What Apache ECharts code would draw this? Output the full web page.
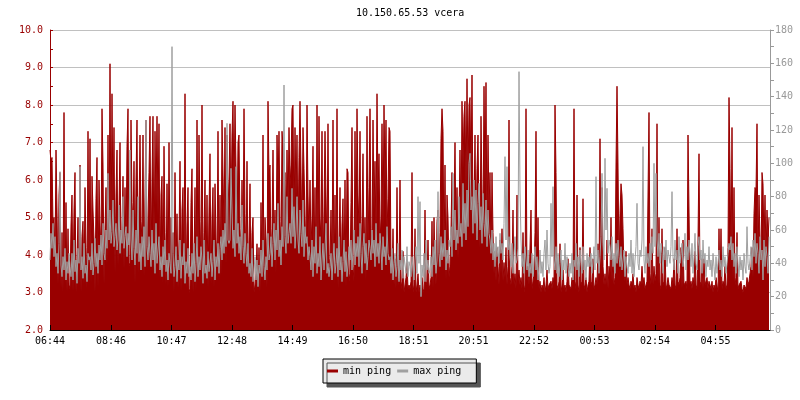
<!DOCTYPE html>
<html>
<head>
<meta charset="utf-8">
<script src="https://cdn.jsdelivr.net/npm/echarts@6/dist/echarts.min.js"></script>
<style>html,body{margin:0;padding:0;background:#fff}#c{width:800px;height:400px}</style>
</head>
<body>
<div id="c"></div>
<script>
const titleText = '10.150.65.53 vcera';
const seriesNames = ['min ping', 'max ping'];
const stepMinutes = 2;
const tickMinutes = [0, 122, 243, 364, 485, 606, 727, 847, 968, 1089, 1210, 1331];
const tickLabels = ['06:44', '08:46', '10:47', '12:48', '14:49', '16:50', '18:51', '20:51', '22:52', '00:53', '02:54', '04:55'];

const minPing = [
6.8,6.5,6.6,4.8,5.0,3.9,6.8,5.2,3.2,5.6,6.2,3.1,4.6,3.0,7.8,3.2,5.4,3.0,4.7,3.2,
3.1,4.8,5.6,3.0,5.2,6.2,3.0,3.9,5.0,3.2,6.4,3.0,4.5,4.9,3.2,5.8,4.2,3.1,7.3,3.3,
7.1,3.2,6.1,5.2,4.4,3.0,5.5,6.6,3.1,6.0,4.8,4.1,7.9,6.4,3.2,4.7,5.8,3.7,7.2,3.9,
9.1,4.2,8.3,5.0,7.4,3.5,5.6,6.8,3.7,5.2,7.0,3.9,4.7,6.1,3.6,5.8,4.2,6.9,7.9,3.8,
3.7,7.6,5.4,4.7,6.5,3.2,6.0,7.6,3.5,5.1,7.2,4.9,4.4,7.2,3.4,5.6,7.6,3.6,5.0,6.2,
7.7,3.7,6.0,7.7,3.4,7.3,5.3,7.7,5.0,7.5,3.3,5.6,6.1,3.2,6.9,4.6,3.2,5.9,3.1,7.0,
3.7,5.0,3.4,4.6,3.0,6.2,3.7,5.1,3.1,4.4,6.5,3.0,5.2,5.8,3.2,8.3,3.1,4.8,5.8,3.0,
3.1,5.4,6.3,3.0,3.9,5.8,3.0,7.6,3.4,7.2,4.9,3.7,8.0,3.2,4.6,6.0,3.3,5.6,3.1,5.2,
6.7,3.2,5.0,5.8,3.1,5.9,4.4,3.8,7.3,3.3,5.6,3.4,7.6,7.6,4.7,7.4,3.7,7.2,5.2,6.0,
7.5,5.0,7.2,8.1,5.6,8.0,6.3,4.4,7.0,7.2,4.7,3.9,6.0,4.2,7.9,5.1,3.7,6.5,3.4,4.4,
5.9,3.1,4.6,5.0,3.0,3.2,3.5,4.3,3.1,4.2,3.0,5.4,3.7,7.2,3.2,5.0,4.4,3.1,8.1,6.1,
6.4,3.7,4.7,6.8,4.2,5.2,3.5,7.2,5.8,7.3,4.9,4.1,7.3,6.9,5.6,6.2,4.4,6.8,5.1,7.4,
5.8,6.4,7.9,8.0,4.6,7.4,5.5,7.2,4.2,6.6,8.1,8.1,4.4,7.4,6.3,5.0,4.0,8.0,5.6,4.4,
6.0,4.2,5.0,6.9,3.7,5.8,3.4,8.0,3.9,7.7,5.0,4.4,7.3,3.5,5.2,7.3,5.6,4.1,7.5,3.7,
3.9,5.2,3.5,7.6,3.2,5.6,3.3,7.9,3.1,4.2,5.8,3.2,4.8,5.5,3.2,6.0,3.1,6.3,6.2,3.3,
3.5,5.4,7.4,3.7,3.3,7.3,4.1,7.9,5.6,4.7,7.3,3.6,4.9,6.7,3.9,5.0,3.3,7.7,4.2,5.8,
7.9,4.7,4.2,7.6,5.2,6.5,4.4,8.3,5.6,6.7,4.3,5.0,7.5,4.7,8.0,5.8,7.6,4.6,5.5,7.4,
7.3,3.7,3.3,4.7,3.2,3.9,3.1,5.8,3.2,3.4,6.0,3.1,3.3,4.1,3.0,3.2,3.4,3.8,3.1,3.2,
3.1,3.3,6.2,3.0,3.2,4.7,3.0,3.2,3.5,3.0,3.2,3.0,3.4,3.1,3.0,5.2,3.2,3.3,4.4,3.1,
3.2,3.4,4.9,3.1,5.0,3.7,3.2,4.9,5.2,3.5,4.6,7.1,7.9,7.3,3.9,6.4,3.3,5.6,5.0,3.4,
3.7,4.7,6.2,4.2,5.2,7.0,4.4,5.8,3.9,5.0,6.8,4.7,8.1,6.3,7.7,8.1,5.6,8.7,6.0,8.0,
8.2,6.0,8.8,4.8,5.2,7.2,4.4,6.3,7.2,5.0,4.2,7.7,5.6,4.6,8.5,5.8,8.6,4.4,7.2,5.2,
6.2,3.9,6.2,4.6,3.5,4.1,3.3,4.2,3.7,3.2,4.4,3.5,4.7,3.3,3.8,3.4,4.2,3.2,3.7,7.6,
3.4,3.2,3.7,5.2,3.2,3.5,3.1,5.6,3.3,3.6,3.2,3.4,3.1,4.6,3.2,3.0,7.9,3.3,3.7,3.2,
3.2,5.2,3.1,3.3,3.5,4.6,7.3,3.2,5.0,3.1,3.3,3.0,3.2,3.1,3.4,3.0,3.2,3.6,3.1,3.2,
3.2,3.3,3.1,3.4,3.2,8.0,6.2,3.2,3.1,3.3,4.3,3.0,3.2,3.6,3.1,3.2,3.0,3.3,3.9,3.2,
3.2,3.1,3.4,3.2,7.9,3.3,3.1,5.6,3.2,3.0,4.2,3.2,3.3,5.5,3.1,3.2,3.4,3.0,3.2,3.3,
4.2,3.2,3.3,3.9,3.1,3.2,3.4,3.2,4.3,3.3,7.1,3.4,5.8,3.7,3.2,3.5,3.2,4.4,3.1,3.7,
3.5,5.0,3.3,3.9,3.2,3.4,6.4,8.5,6.4,3.7,5.1,5.9,5.6,4.7,3.6,3.3,4.1,3.2,3.4,3.2,
3.1,3.3,3.2,3.5,3.1,3.2,3.0,3.4,3.2,3.1,3.3,3.2,3.7,3.2,3.4,3.1,3.2,3.3,5.6,7.8,
3.5,3.2,4.7,3.2,3.7,3.3,3.5,7.5,3.2,5.0,3.2,3.1,4.7,3.2,3.3,4.2,3.1,3.2,3.4,3.2,
3.2,3.1,3.4,3.2,3.9,3.2,3.1,4.7,3.3,3.2,3.4,4.2,3.1,4.4,3.2,3.2,3.3,3.1,7.2,5.2,
3.2,3.3,3.1,3.4,3.2,4.1,3.2,3.1,4.4,6.7,3.3,3.2,3.9,3.1,3.9,3.2,3.2,3.4,3.1,3.3,
3.2,3.1,3.3,3.0,3.2,3.1,3.4,3.2,3.0,4.7,3.2,4.7,3.1,3.3,3.2,3.7,3.1,3.2,4.2,8.2,
6.3,3.7,7.4,3.3,5.8,3.2,3.4,4.6,3.1,3.2,3.2,3.3,3.1,3.0,3.2,3.2,3.1,3.4,3.2,3.3,
3.3,3.7,4.2,3.4,5.1,5.8,5.7,7.5,3.9,5.6,4.4,3.7,6.2,5.9,4.2,5.6,3.9,5.2,4.4,5.0
];

const maxPing = [
42,58,49,64,44,56,38,46,34,52,95,39,32,44,36,49,30,41,34,46,
38,32,46,30,54,35,42,28,49,40,98,36,44,31,52,34,39,29,46,42,
44,36,52,33,40,55,38,46,34,51,42,57,39,64,46,42,60,49,94,54,
72,52,59,78,50,56,64,48,54,75,46,60,52,80,49,56,62,44,58,51,
108,54,42,72,49,39,60,46,80,41,52,36,56,44,62,38,126,50,42,56,
46,38,60,42,52,34,64,40,48,56,36,44,32,50,39,54,35,42,30,46,
40,34,170,46,32,38,50,29,42,36,54,31,44,39,52,28,41,34,49,32,
38,30,46,34,52,29,40,56,32,44,36,50,42,28,54,34,39,31,47,35,
36,46,32,41,54,30,44,38,52,34,49,56,42,60,46,64,50,124,54,52,
54,97,72,49,60,44,98,52,64,46,56,42,75,50,40,58,46,38,52,34,
40,32,49,29,36,44,30,42,26,39,34,48,32,54,38,30,44,36,58,42,
46,56,38,52,64,42,60,48,76,44,54,39,62,50,147,56,46,80,52,58,
64,52,85,56,74,49,60,80,54,46,72,58,50,78,44,62,52,56,42,50,
44,36,54,32,50,40,62,34,46,38,56,30,42,52,36,48,64,34,40,32,
38,46,30,42,52,34,40,49,32,56,36,44,29,41,54,35,47,32,39,50,
42,54,36,48,60,39,52,44,56,38,64,46,34,50,58,40,52,36,44,54,
49,42,60,46,54,38,64,44,52,40,58,48,36,56,44,50,39,62,46,42,
44,34,49,30,40,46,32,38,52,29,42,36,48,31,44,39,34,50,32,41,
38,32,44,36,30,42,50,34,80,40,77,20,39,32,46,29,54,36,42,34,
36,44,32,50,39,54,34,42,83,46,38,56,42,52,44,60,36,48,40,54,
50,62,44,94,54,72,48,60,52,80,56,64,50,88,58,76,54,84,62,100,
106,72,80,58,90,64,84,54,76,88,60,74,52,82,64,56,78,50,72,58,
54,46,60,42,52,38,56,44,50,40,58,46,52,42,64,104,54,98,48,56,
44,38,52,34,46,56,40,42,49,155,84,54,38,46,34,50,42,36,48,32,
40,34,46,32,42,50,36,44,30,38,48,34,41,32,46,54,36,60,40,34,
38,76,44,86,42,36,50,34,46,32,40,48,30,42,36,52,34,44,38,32,
40,34,46,30,42,38,52,36,44,32,48,40,34,50,36,42,30,46,38,44,
38,46,34,42,50,36,92,40,48,34,44,56,94,52,42,103,60,85,46,54,
50,42,56,38,46,34,52,40,54,44,38,50,36,42,48,32,44,38,34,46,
38,54,34,46,32,42,50,76,40,36,48,44,54,110,42,34,50,40,46,38,
52,42,56,46,100,50,94,54,44,58,40,52,46,34,50,42,54,38,48,44,
40,50,83,44,36,54,42,48,34,56,40,46,52,38,44,58,36,50,42,54,
46,38,52,34,44,58,40,36,50,56,42,48,34,54,40,46,32,42,38,50,
36,42,32,46,38,30,44,34,40,48,36,42,32,50,38,44,34,40,46,52,
48,56,42,52,38,46,34,50,40,32,44,36,42,30,46,38,34,62,40,36,
42,50,36,54,44,58,40,52,46,34,56,42,48,30,54,38,50,44,34,56
];

const RED = '#990000';
const GREY = '#a0a0a0';
const FONT = 'DejaVu Sans Mono';

const chart = echarts.init(document.getElementById('c'), null, {renderer: 'canvas'});
const minData = minPing.map((v, i) => [i * stepMinutes, v]);
const maxData = maxPing.map((v, i) => [i * stepMinutes, v]);

chart.setOption({
  animation: false,
  backgroundColor: '#ffffff',
  title: {
    text: titleText,
    left: 356,
    top: 8,
    padding: 0,
    textStyle: {fontFamily: FONT, fontSize: 10, fontWeight: 'normal', color: '#000'}
  },
  legend: {
    left: 323,
    top: 359,
    padding: [7, 15, 7, 4],
    itemGap: 6,
    itemWidth: 11,
    itemHeight: 3,
    icon: 'rect',
    backgroundColor: '#ebebeb',
    borderColor: '#000',
    borderWidth: 1,
    borderRadius: 0,
    shadowColor: '#555555',
    shadowBlur: 0,
    shadowOffsetX: 4,
    shadowOffsetY: 4,
    textStyle: {fontFamily: FONT, fontSize: 10, color: '#000'},
    data: seriesNames
  },
  grid: {left: 50, right: 30, top: 30, bottom: 70, containLabel: false},
  xAxis: {
    type: 'value',
    min: 0,
    max: 1440,
    z: 10,
    axisLine: {show: true, lineStyle: {color: '#000', width: 1}},
    axisTick: {show: true, inside: true, length: 5, lineStyle: {color: '#000'}, customValues: tickMinutes},
    axisLabel: {
      show: true, margin: 6, color: '#000', fontFamily: FONT, fontSize: 10,
      customValues: tickMinutes,
      formatter: (v) => { const k = tickMinutes.indexOf(Math.round(v)); return k >= 0 ? tickLabels[k] : ''; }
    },
    splitLine: {show: false}
  },
  yAxis: [
    {
      type: 'value',
      position: 'left',
      min: 2, max: 10, interval: 1,
      axisLine: {show: true, lineStyle: {color: RED}},
      axisTick: {show: true, inside: true, length: 3, lineStyle: {color: RED}},
      minorTick: {show: true, splitNumber: 2, length: 3, lineStyle: {color: RED}},
      axisLabel: {color: RED, fontFamily: FONT, fontSize: 10, margin: 7, formatter: (v) => v.toFixed(1)},
      splitLine: {show: true, lineStyle: {color: '#c0c0c0', width: 1}}
    },
    {
      type: 'value',
      position: 'right',
      min: 0, max: 180, interval: 20,
      axisLine: {show: true, lineStyle: {color: '#999999'}},
      axisTick: {show: true, inside: false, length: 4, lineStyle: {color: '#999999'}},
      minorTick: {show: true, splitNumber: 2, length: 4, lineStyle: {color: '#999999'}},
      axisLabel: {color: '#999999', fontFamily: FONT, fontSize: 10, margin: 5},
      splitLine: {show: false}
    }
  ],
  series: [
    {
      name: seriesNames[0],
      type: 'line',
      yAxisIndex: 0,
      data: minData,
      showSymbol: false,
      symbol: 'none',
      step: 'end',
      sampling: null,
      color: RED,
      lineStyle: {color: RED, width: 1},
      areaStyle: {color: RED, opacity: 1, origin: 'start'},
      z: 2
    },
    {
      name: seriesNames[1],
      type: 'line',
      yAxisIndex: 1,
      data: maxData,
      showSymbol: false,
      symbol: 'none',
      color: GREY,
      lineStyle: {color: GREY, width: 1},
      z: 3
    }
  ]
});
</script>
</body>
</html>
